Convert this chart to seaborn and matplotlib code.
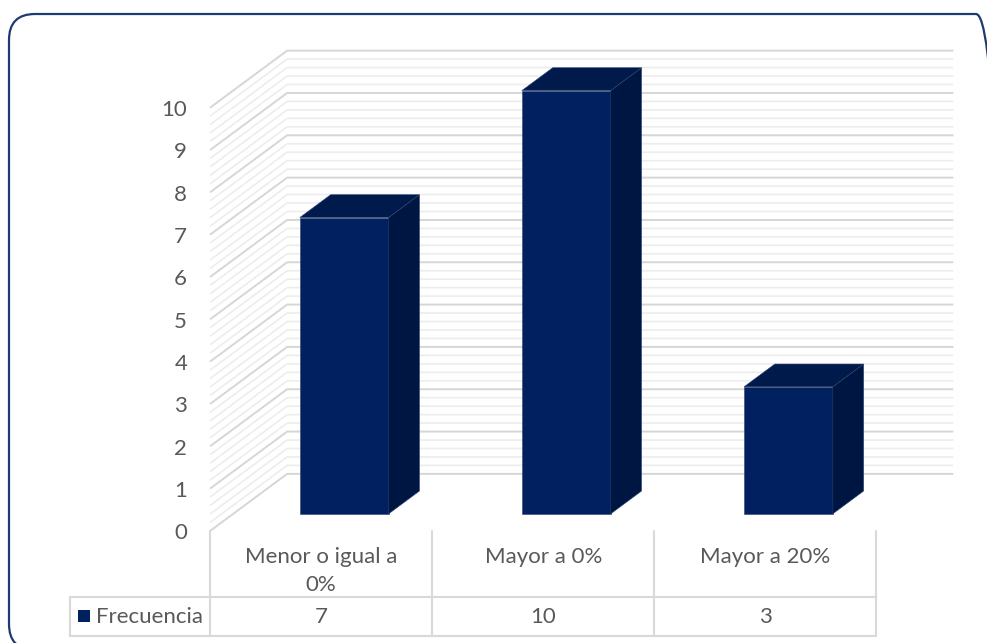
import textwrap
import matplotlib
matplotlib.use("Agg")
import matplotlib.pyplot as plt
from matplotlib.patches import Polygon, Rectangle, FancyBboxPatch
from matplotlib.transforms import IdentityTransform
import seaborn as sns
import numpy as np

# ---------------- data ----------------
categories = ["Menor o igual a 0%", "Mayor a 0%", "Mayor a 20%"]
frecuencia = [7, 10, 3]
series_name = "Frecuencia"
y_ticks = list(range(0, 11))

# ---------------- style ----------------
sns.set_style("white")
plt.rcParams["font.family"] = ["Lato", "DejaVu Sans"]
TXT = "#595959"
FRONT = "#00205F"
TOP = "#001A4B"
SIDE = "#001642"
MAJOR = "#D6D6D6"
MINOR = "#EDEDED"
TABLE = "#D9D9D9"
FS = 16

W, H = 987, 643
fig = plt.figure(figsize=((W + 0.4) / 100, (H + 0.4) / 100), dpi=100)

X0PX, XSTEP = 321, 222      # pixel x of category 0 centre, pixels per category
V0PX, VSTEP = 531, 42.3     # pixel y (from top) of value 0, pixels per unit
ax = fig.add_axes([(X0PX - 0.5 * XSTEP) / W, (H - V0PX) / H,
                   3 * XSTEP / W, 10 * VSTEP / H])

sns.barplot(x=categories, y=frecuencia, ax=ax, width=0.4, color=FRONT,
            saturation=1, zorder=3)
ax.set_xlim(-0.5, 2.5)
ax.set_ylim(0, 10)
ax.set_xticks([])
ax.set_yticks(y_ticks)
ax.set_yticklabels([str(t) for t in y_ticks], fontsize=FS, color=TXT)
ax.tick_params(axis="y", length=0, pad=16.5)
ax.set_xlabel("")
ax.set_ylabel("")
for s in ax.spines.values():
    s.set_visible(False)
ax.patch.set_alpha(0)

# one full depth unit expressed in data units
DX = 77 / XSTEP
DV = 57 / VSTEP


def proj(x, v, d):
    return (x + d * DX, v + d * DV)


def px2d(px, py):
    return ((px - X0PX) / XSTEP, (V0PX - py) / VSTEP)


xl, xr = ax.get_xlim()
vt = max(y_ticks)

# side and back wall gridlines (major every unit, minor every 0.2)
for k in range(0, vt * 5 + 1):
    v = k / 5
    major = (k % 5 == 0)
    col = MAJOR if major else MINOR
    lw = 1.4 if major else 1.2
    p0 = proj(xl, v, 0)
    p1 = proj(xl, v, 1)
    p2 = proj(xr, v, 1)
    ax.plot([p0[0], p1[0], p2[0]], [p0[1], p1[1], p2[1]], color=col, lw=lw,
            solid_capstyle="butt", clip_on=False, zorder=1)

# bars: push seaborn's front faces into depth, add top and side faces
d0, d1 = 0.3, 0.7
for p in list(ax.patches):
    x0 = p.get_x()
    w = p.get_width()
    h = p.get_height()
    p.set_x(x0 + d0 * DX)
    p.set_y(d0 * DV)
    p.set_clip_on(False)
    p.set_edgecolor("#2B4170")
    p.set_linewidth(0.4)
    top = [proj(x0, h, d0), proj(x0 + w, h, d0), proj(x0 + w, h, d1), proj(x0, h, d1)]
    side = [proj(x0 + w, 0, d0), proj(x0 + w, 0, d1), proj(x0 + w, h, d1), proj(x0 + w, h, d0)]
    ax.add_patch(Polygon(top, closed=True, facecolor=TOP, edgecolor="#2B4170",
                         lw=0.4, clip_on=False, zorder=3))
    ax.add_patch(Polygon(side, closed=True, facecolor=SIDE, edgecolor="#2B4170",
                         lw=0.4, clip_on=False, zorder=3))

# ---------------- data table ----------------
lx, _ = px2d(70, 0)
_, r1 = px2d(0, 597)
_, r2 = px2d(0, 636)
n = len(categories)
for i in range(n + 1):
    xb = -0.5 + i
    ax.plot([xb, xb], [0, r2], color=TABLE, lw=1.5, clip_on=False, zorder=1)
ax.plot([lx, lx], [r1, r2], color=TABLE, lw=1.5, clip_on=False, zorder=1)
for r in (r1, r2):
    ax.plot([lx, xr], [r, r], color=TABLE, lw=1.5, clip_on=False, zorder=1)

_, yl1 = px2d(0, 557)
line_step = 28 / VSTEP
for i, (cat, val) in enumerate(zip(categories, frecuencia)):
    for k, line in enumerate(textwrap.wrap(cat, 15)):
        ax.text(i, yl1 - k * line_step, line, ha="center", va="center",
                fontsize=FS, color=TXT, clip_on=False)
    ax.text(i, (r1 + r2) / 2, str(val), ha="center", va="center",
            fontsize=FS, color=TXT, clip_on=False)

# legend key inside the table
kx0, ky0 = px2d(78, 622)
kx1, ky1 = px2d(90, 610)
ax.add_patch(Rectangle((kx0, ky0), kx1 - kx0, ky1 - ky0, facecolor=FRONT,
                       edgecolor="none", clip_on=False))
tx, _ = px2d(96, 0)
ax.text(tx, (r1 + r2) / 2, series_name, ha="left", va="center",
        fontsize=FS, color=TXT, clip_on=False)

# outer rounded frame (display pixels)
fig.add_artist(FancyBboxPatch((9, -7), 993, H - 14 + 7,
                              boxstyle="round,pad=0,rounding_size=26",
                              transform=IdentityTransform(), facecolor="none",
                              edgecolor="#1F3A70", lw=1.6, clip_on=False))

fig.savefig("out.png", dpi=100, facecolor="white")
